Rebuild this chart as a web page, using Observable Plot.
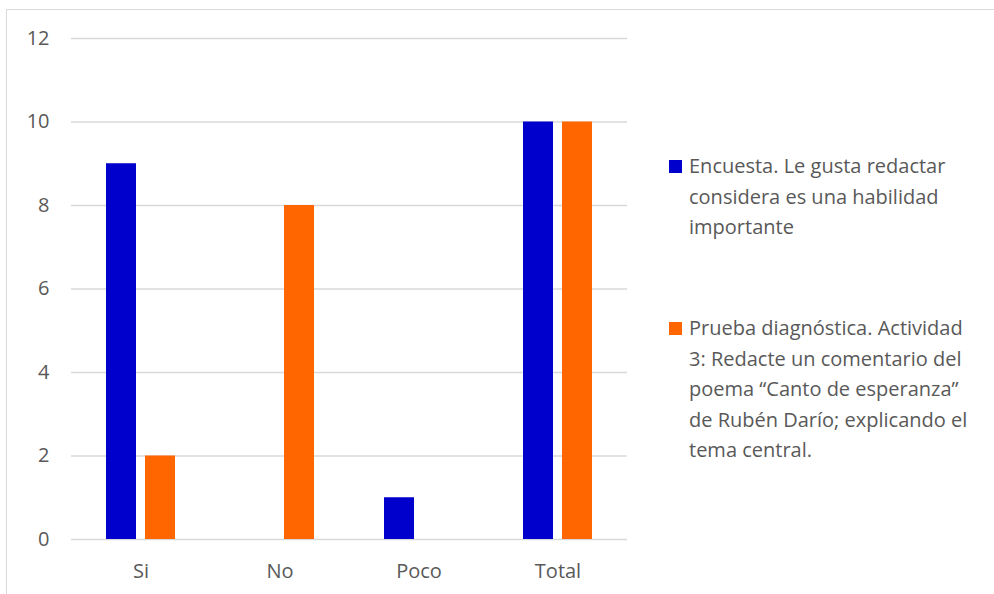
<!DOCTYPE html>
<html>
<head>
<meta charset="utf-8">
<script src="https://cdn.jsdelivr.net/npm/d3@7"></script>
<script src="https://cdn.jsdelivr.net/npm/@observablehq/plot@0.6"></script>
<style>
  body { margin: 0; background: #fff; }
  #wrap { position: relative; width: 994px; height: 594px; overflow: hidden; font-family: "Open Sans", sans-serif; color: #595959; }
  #frame { position: absolute; left: 6px; top: 9px; width: 2000px; height: 2000px; border-left: 1.5px solid #d9d9d9; border-top: 1.5px solid #d9d9d9; }
  #chart { position: absolute; left: 0; top: 0; }
  .item { position: absolute; left: 669px; font-size: 20px; line-height: 30.5px; white-space: nowrap; }
  .sw { position: absolute; left: 0; top: 9px; width: 13px; height: 13px; }
  .tx { position: absolute; left: 20px; top: 0; }
</style>
</head>
<body>
<div id="wrap">
  <div id="frame"></div>
  <div id="chart"></div>
  <div id="legend"></div>
</div>
<script>
const categories = ["Si", "No", "Poco", "Total"];
const seriesNames = [
  "Encuesta. Le gusta redactar considera es una habilidad importante",
  "Prueba diagnóstica. Actividad 3: Redacte un comentario del poema “Canto de esperanza” de Rubén Darío; explicando el tema central."
];
const legendLines = [
  ["Encuesta. Le gusta redactar", "considera es una habilidad", "importante"],
  ["Prueba diagnóstica. Actividad", "3: Redacte un comentario del", "poema “Canto de esperanza”", "de Rubén Darío; explicando el", "tema central."]
];
const encuesta = [9, 0, 1, 10];
const prueba = [2, 8, 0, 10];
const colors = ["#0000CC", "#FF6600"];
const yTicks = [0, 2, 4, 6, 8, 10, 12];

const data = categories.flatMap((c, i) => [
  { cat: c, serie: seriesNames[0], value: encuesta[i] },
  { cat: c, serie: seriesNames[1], value: prueba[i] }
]);

const chart = Plot.plot({
  width: 994,
  height: 594,
  marginLeft: 70,
  marginRight: 366,
  marginTop: 38,
  marginBottom: 55,
  style: { fontFamily: "Open Sans, sans-serif", fontSize: "20px", color: "#595959", background: "transparent", overflow: "visible" },
  fx: { domain: categories, padding: 0, label: null, axis: "bottom", tickSize: 0, tickPadding: 24 },
  x: { domain: seriesNames, paddingInner: 0.225, paddingOuter: 0.856, axis: null },
  y: { domain: [0, 12], ticks: 6, label: null, tickSize: 0, tickPadding: 22 },
  color: { domain: seriesNames, range: colors },
  marks: [
    Plot.ruleY(yTicks, { stroke: "#d9d9d9", strokeWidth: 1.5 }),
    Plot.barY(data, { fx: "cat", x: "serie", y: "value", fill: "serie" })
  ]
});
document.getElementById("chart").appendChild(chart);

const legend = document.getElementById("legend");
const tops = [151, 313];
legendLines.forEach((lines, i) => {
  const item = document.createElement("div");
  item.className = "item";
  item.style.top = tops[i] + "px";
  const sw = document.createElement("div");
  sw.className = "sw";
  sw.style.background = colors[i];
  const tx = document.createElement("div");
  tx.className = "tx";
  tx.innerHTML = lines.join("<br>");
  item.appendChild(sw);
  item.appendChild(tx);
  legend.appendChild(item);
});
</script>
</body>
</html>
